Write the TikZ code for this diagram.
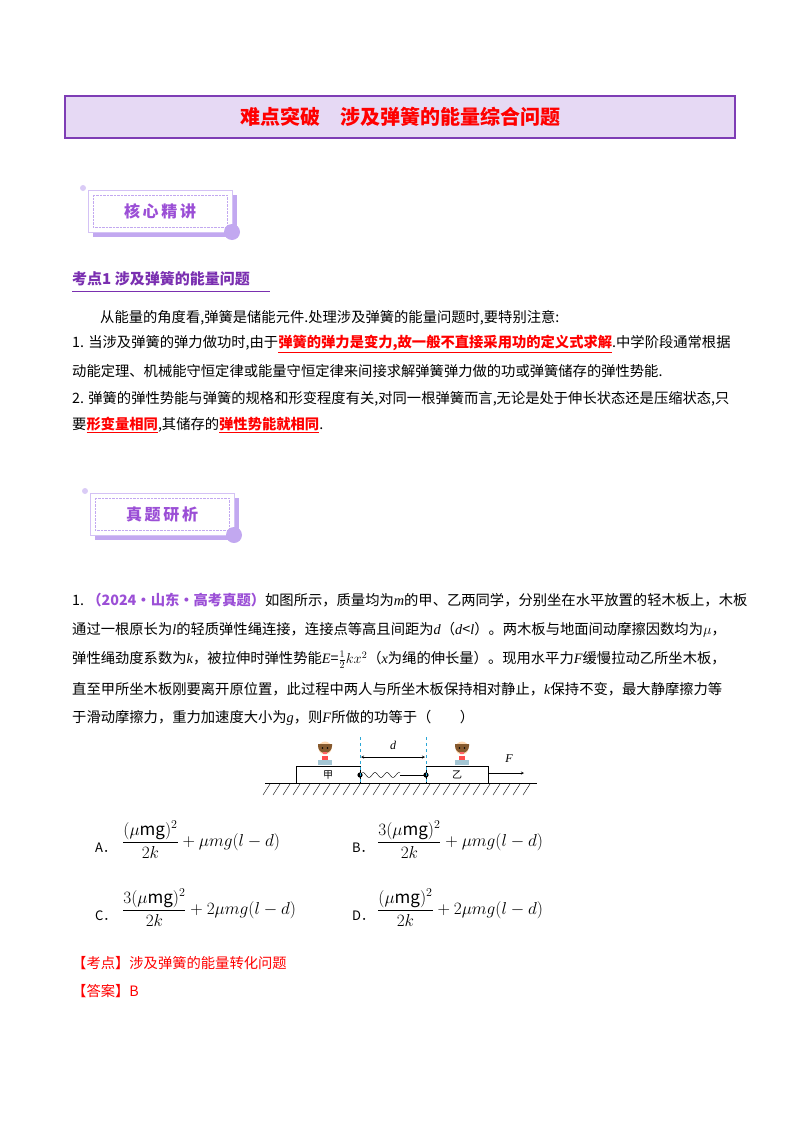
\documentclass[tikz,border=0pt]{standalone}
\usepackage{fontspec}
\usepackage{amsmath}
\setmainfont{Noto Sans CJK SC}
\newfontfamily\tnr{Liberation Serif}
\definecolor{titlebg}{HTML}{E6D9F4}
\definecolor{titleframe}{HTML}{7E3DB5}
\definecolor{purp}{HTML}{9B4FD6}
\definecolor{lpurp}{HTML}{C2A8F0}
\definecolor{headp}{HTML}{7A2FB0}
\definecolor{cyanl}{HTML}{2AA7D6}
\tikzset{
  line/.style={anchor=west,inner sep=0pt,font=\fontsize{14.3}{16}\selectfont},
}
\newcommand{\rb}[1]{\textcolor{red}{\bfseries\underline{#1}}}
\newcommand{\labelbox}[3]{% x y text
  \fill[lpurp] (#1+5,#2+5) rectangle (#1+149,#2+47);
  \draw[lpurp!70,fill=white] (#1,#2) rectangle (#1+144,#2+42);
  \draw[lpurp,densely dotted] (#1+5,#2+5) rectangle (#1+139,#2+37);
  \node[inner sep=0pt,text=purp,font=\fontsize{16}{18}\selectfont\bfseries] at (#1+72,#2+21) {#3};
  \fill[lpurp] (#1+144,#2+42) circle (8);
  \fill[lpurp!60] (#1-5,#2-2) circle (3);
}
\begin{document}
\begin{tikzpicture}[x=1pt,y=-1pt]
\useasboundingbox (0,0) rectangle (800,1132);
% title
\draw[titleframe,line width=1.5pt,fill=titlebg] (65,96) rectangle (735,138);
\node[inner sep=0pt,text=red,font=\fontsize{20}{22}\selectfont\bfseries] (title) at (400,117) {难点突破\quad 涉及弹簧的能量综合问题};
\labelbox{88}{190}{核\,心\,精\,讲}
\node[line,font=\fontsize{15}{17}\selectfont\bfseries,text=headp] (k1) at (72,279) {考点1\ 涉及弹簧的能量问题};
\draw[headp,line width=1pt] (72,291) -- (270,291);
\node[line] (p0) at (100,318) {从能量的角度看,弹簧是储能元件.处理涉及弹簧的能量问题时,要特别注意:};
\node[line] (p1) at (72,344) {1. 当涉及弹簧的弹力做功时,由于\rb{弹簧的弹力是变力,故一般不直接采用功的定义式求解}.中学阶段通常根据};
\node[line] (p2) at (72,371) {动能定理、机械能守恒定律或能量守恒定律来间接求解弹簧弹力做的功或弹簧储存的弹性势能.};
\node[line] (p3) at (72,399) {2. 弹簧的弹性势能与弹簧的规格和形变程度有关,对同一根弹簧而言,无论是处于伸长状态还是压缩状态,只};
\node[line] (p4) at (72,425) {要\rb{形变量相同},其储存的\rb{弹性势能就相同}.};
\labelbox{90}{493}{真\,题\,研\,析}
% question
\node[line] (q1) at (72,600) {1.\ \textcolor{purp}{\bfseries（2024·山东·高考真题）}如图所示，质量均为\textit{\tnr m}的甲、乙两同学，分别坐在水平放置的轻木板上，木板};
\node[line] (q2) at (72,630) {通过一根原长为\textit{\tnr l}的轻质弹性绳连接，连接点等高且间距为\textit{\tnr d}（\textit{\tnr d}<\textit{\tnr l}）。两木板与地面间动摩擦因数均为$\mu$，};
\node[line] (q3) at (72,660) {弹性绳劲度系数为\textit{\tnr k}，被拉伸时弹性势能\textit{\tnr E}=$\tfrac{1}{2}kx^2$（\textit{\tnr x}为绳的伸长量）。现用水平力\textit{\tnr F}缓慢拉动乙所坐木板，};
\node[line] (q4) at (72,689) {直至甲所坐木板刚要离开原位置，此过程中两人与所坐木板保持相对静止，\textit{\tnr k}保持不变，最大静摩擦力等};
\node[line] (q5) at (72,718) {于滑动摩擦力，重力加速度大小为\textit{\tnr g}，则\textit{\tnr F}所做的功等于（\qquad ）};
% figure
\draw (265,783) -- (537,783);
\foreach \i in {0,...,26} \draw (270+10*\i,784) -- (263+10*\i,795);
\draw (296,783) rectangle (360,766);
\draw (426,783) rectangle (488,766);
\node[font=\fontsize{10}{12}\selectfont] (jia) at (328,775) {甲};
\node[font=\fontsize{10}{12}\selectfont] (yi) at (457,775) {乙};
\fill (360,775) circle (2.6);
\fill (426,775) circle (2.6);
\draw plot[domain=0:40,samples=60,smooth] ({360+\x},{775-2.5*sin(\x*30)});
\draw (400,775) -- (426,775);
\draw[cyanl,dashed] (360,737) -- (360,783);
\draw[cyanl,dashed] (426,737) -- (426,783);
\draw[<->,>=stealth] (361,757) -- (425,757);
\node[font=\fontsize{12}{14}\selectfont\tnr\itshape] (d) at (393,745) {d};
\draw[->,>=stealth] (488,773) -- (524,773);
\node[font=\fontsize{12}{14}\selectfont\tnr\itshape] (F) at (509,759) {F};
\foreach \cx in {325,462}{
  \fill[cyan!40!gray!60] (\cx-7,760) rectangle (\cx+7,765);
  \fill[red!70] (\cx-3,756) rectangle (\cx+3,760);
  \fill[orange!30] (\cx,748) circle (6.5);
  \fill[brown!70!black] (\cx-7,746) arc (180:0:7) -- (\cx+7,744) -- (\cx-7,744) -- cycle;
  \fill (\cx-2.5,748) circle (0.8); \fill (\cx+2.5,748) circle (0.8);
  \fill[red!60] (\cx-2,752) rectangle (\cx+2,753.5);
}
% options
\tikzset{opt/.style={anchor=west,inner sep=0pt,font=\fontsize{13}{15}\selectfont},
  optf/.style={anchor=west,inner sep=0pt,font=\fontsize{17}{20}\selectfont\tnr}}
\node[opt] (A) at (95,848) {A．};
\node[optf] (Af) at (122,840) {$\dfrac{(\mu\mathrm{mg})^2}{2k}+\mu mg(l-d)$};
\node[opt] (B) at (352,848) {B．};
\node[optf] (Bf) at (377,840) {$\dfrac{3(\mu\mathrm{mg})^2}{2k}+\mu mg(l-d)$};
\node[opt] (C) at (95,916) {C．};
\node[optf] (Cf) at (122,908) {$\dfrac{3(\mu\mathrm{mg})^2}{2k}+2\mu mg(l-d)$};
\node[opt] (D) at (352,916) {D．};
\node[optf] (Df) at (377,908) {$\dfrac{(\mu\mathrm{mg})^2}{2k}+2\mu mg(l-d)$};
\node[line,text=red] (kd) at (72,963) {【考点】涉及弹簧的能量转化问题};
\node[line,text=red] (ans) at (72,991) {【答案】B};
\end{tikzpicture}
\end{document}
